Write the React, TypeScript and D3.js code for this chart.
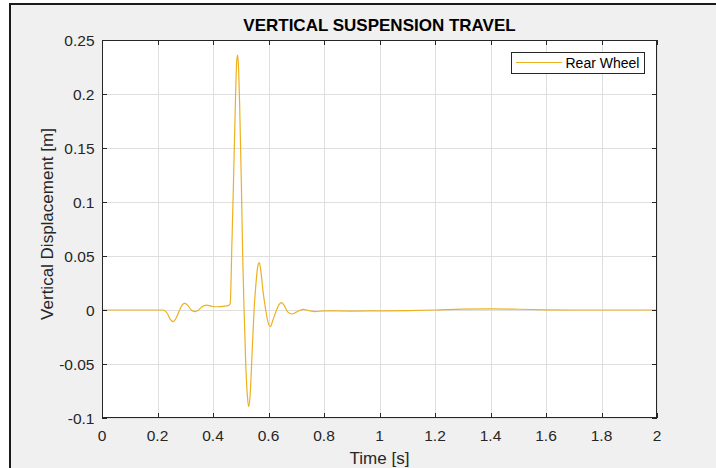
import React, { useEffect, useRef } from "react";
import * as d3 from "d3";

// time samples [s] and rear wheel vertical displacement [m]
const timeValues = [
  0, 0.1, 0.2, 0.22, 0.235, 0.247, 0.257, 0.268, 0.28, 0.29, 0.299, 0.31,
  0.322, 0.335, 0.348, 0.36, 0.377, 0.395, 0.419, 0.44, 0.455, 0.462, 0.468,
  0.474, 0.48, 0.485, 0.488, 0.491, 0.496, 0.502, 0.507, 0.512, 0.518, 0.524,
  0.529, 0.534, 0.54, 0.548, 0.555, 0.561, 0.567, 0.573, 0.58, 0.59, 0.598,
  0.607, 0.615, 0.629, 0.638, 0.647, 0.657, 0.67, 0.685, 0.7, 0.725, 0.745,
  0.767, 0.8, 0.9, 1.0, 1.1, 1.2, 1.3, 1.4, 1.5, 1.6, 1.7, 1.8, 1.9, 2.0
];
const rearWheel = [
  0, 0, 0, 0, -0.003, -0.009, -0.0108, -0.007, 0, 0.005, 0.0062, 0.004,
  0, -0.0015, 0, 0.003, 0.0046, 0.0035, 0.003, 0.0035, 0.004, 0.006, 0.06,
  0.12, 0.185, 0.228, 0.236, 0.23, 0.19, 0.12, 0.05, 0, -0.05, -0.08,
  -0.0895, -0.078, -0.045, 0, 0.025, 0.04, 0.0438, 0.035, 0.018, 0, -0.011,
  -0.0154, -0.01, 0, 0.005, 0.0068, 0.004, -0.002, -0.0037, -0.002, 0.0006, -0.0005,
  -0.0015, -0.0008, -0.001, -0.0008, -0.0006, 0, 0.0008, 0.001, 0.0007, 0.0002, 0, 0, 0, 0
];

const xTicks = [0, 0.2, 0.4, 0.6, 0.8, 1, 1.2, 1.4, 1.6, 1.8, 2];
const xTickLabels = ["0", "0.2", "0.4", "0.6", "0.8", "1", "1.2", "1.4", "1.6", "1.8", "2"];
const yTicks = [-0.1, -0.05, 0, 0.05, 0.1, 0.15, 0.2, 0.25];
const yTickLabels = ["-0.1", "-0.05", "0", "0.05", "0.1", "0.15", "0.2", "0.25"];
const seriesNames = ["Rear Wheel"];

const FONT = "'Liberation Sans', Arial, Helvetica, sans-serif";
const INK = "#262626";
const LINE_COLOR = "#EDB120";

const App = () => {
  const ref = useRef<SVGSVGElement | null>(null);

  useEffect(() => {
    const width = 716;
    const height = 468;
    const plot = { left: 102, right: 657, top: 40, bottom: 418 };

    const svg = d3.select(ref.current);
    svg.selectAll("*").remove();

    // figure background + window frame (left/top edges visible)
    svg.append("rect").attr("width", width).attr("height", height).attr("fill", "#ffffff");
    svg
      .append("rect")
      .attr("x", 10)
      .attr("y", 4)
      .attr("width", width - 10)
      .attr("height", height - 4)
      .attr("fill", "#f0f0f0");
    svg
      .append("path")
      .attr("d", `M10,${height} L10,4 L${width},4`)
      .attr("fill", "none")
      .attr("stroke", "#1a1a1a")
      .attr("stroke-width", 2);

    const x = d3.scaleLinear().domain([0, 2]).range([plot.left, plot.right]);
    const y = d3.scaleLinear().domain([-0.1, 0.25]).range([plot.bottom, plot.top]);

    // axes area
    svg
      .append("rect")
      .attr("x", plot.left)
      .attr("y", plot.top)
      .attr("width", plot.right - plot.left)
      .attr("height", plot.bottom - plot.top)
      .attr("fill", "#ffffff");

    // grid
    const grid = svg.append("g").attr("stroke", "#dfdfdf").attr("stroke-width", 1);
    xTicks.forEach(t => {
      grid
        .append("line")
        .attr("x1", Math.round(x(t)) + 0.5)
        .attr("x2", Math.round(x(t)) + 0.5)
        .attr("y1", plot.top)
        .attr("y2", plot.bottom);
    });
    yTicks.forEach(t => {
      grid
        .append("line")
        .attr("x1", plot.left)
        .attr("x2", plot.right)
        .attr("y1", Math.round(y(t)) + 0.5)
        .attr("y2", Math.round(y(t)) + 0.5);
    });

    // data line
    const line = d3
      .line<number>()
      .x((d, i) => x(timeValues[i]))
      .y(d => y(d))
      .curve(d3.curveMonotoneX);

    svg
      .append("path")
      .datum(rearWheel)
      .attr("d", line)
      .attr("fill", "none")
      .attr("stroke", LINE_COLOR)
      .attr("stroke-width", 1.2);

    // inward ticks on all four sides
    const tickLen = 5;
    const ticks = svg.append("g").attr("stroke", INK).attr("stroke-width", 1);
    xTicks.forEach(t => {
      const px = Math.round(x(t)) + 0.5;
      ticks.append("line").attr("x1", px).attr("x2", px).attr("y1", plot.bottom).attr("y2", plot.bottom - tickLen);
      ticks.append("line").attr("x1", px).attr("x2", px).attr("y1", plot.top).attr("y2", plot.top + tickLen);
    });
    yTicks.forEach(t => {
      const py = Math.round(y(t)) + 0.5;
      ticks.append("line").attr("x1", plot.left).attr("x2", plot.left + tickLen).attr("y1", py).attr("y2", py);
      ticks.append("line").attr("x1", plot.right).attr("x2", plot.right - tickLen).attr("y1", py).attr("y2", py);
    });

    // axes box
    svg
      .append("rect")
      .attr("x", plot.left + 0.5)
      .attr("y", plot.top + 0.5)
      .attr("width", plot.right - plot.left - 1)
      .attr("height", plot.bottom - plot.top - 1)
      .attr("fill", "none")
      .attr("stroke", INK)
      .attr("stroke-width", 1);

    // tick labels
    xTicks.forEach((t, i) => {
      svg
        .append("text")
        .text(xTickLabels[i])
        .attr("x", x(t))
        .attr("y", 441)
        .attr("text-anchor", "middle")
        .attr("font-family", FONT)
        .attr("font-size", 15.5)
        .attr("fill", INK);
    });
    yTicks.forEach((t, i) => {
      svg
        .append("text")
        .text(yTickLabels[i])
        .attr("x", 94.5)
        .attr("y", y(t) + 5.5)
        .attr("text-anchor", "end")
        .attr("font-family", FONT)
        .attr("font-size", 15.5)
        .attr("fill", INK);
    });

    // title and axis labels
    svg
      .append("text")
      .text("VERTICAL SUSPENSION TRAVEL")
      .attr("x", (plot.left + plot.right) / 2)
      .attr("y", 30.5)
      .attr("text-anchor", "middle")
      .attr("font-family", FONT)
      .attr("font-weight", "bold")
      .attr("font-size", 17)
      .attr("fill", "#000000");

    svg
      .append("text")
      .text("Time [s]")
      .attr("x", (plot.left + plot.right) / 2)
      .attr("y", 464)
      .attr("text-anchor", "middle")
      .attr("font-family", FONT)
      .attr("font-size", 17)
      .attr("fill", INK);

    svg
      .append("text")
      .text("Vertical Displacement [m]")
      .attr("transform", "translate(52.5,224) rotate(-90)")
      .attr("text-anchor", "middle")
      .attr("font-family", FONT)
      .attr("font-size", 17)
      .attr("fill", INK);

    // legend
    const legend = svg.append("g");
    legend
      .append("rect")
      .attr("x", 511.5)
      .attr("y", 52.5)
      .attr("width", 133)
      .attr("height", 21)
      .attr("fill", "#ffffff")
      .attr("stroke", INK)
      .attr("stroke-width", 1);
    legend
      .append("line")
      .attr("x1", 516)
      .attr("x2", 562)
      .attr("y1", 62.5)
      .attr("y2", 62.5)
      .attr("stroke", LINE_COLOR)
      .attr("stroke-width", 1.2);
    legend
      .append("text")
      .text(seriesNames[0])
      .attr("x", 565.5)
      .attr("y", 67.5)
      .attr("font-family", FONT)
      .attr("font-size", 14)
      .attr("fill", "#000000");
  }, []);

  return (
    <div style={{ position: "absolute", left: 0, top: 0 }}>
      <svg ref={ref} width={716} height={468} style={{ display: "block" }} />
    </div>
  );
};

export default App;
